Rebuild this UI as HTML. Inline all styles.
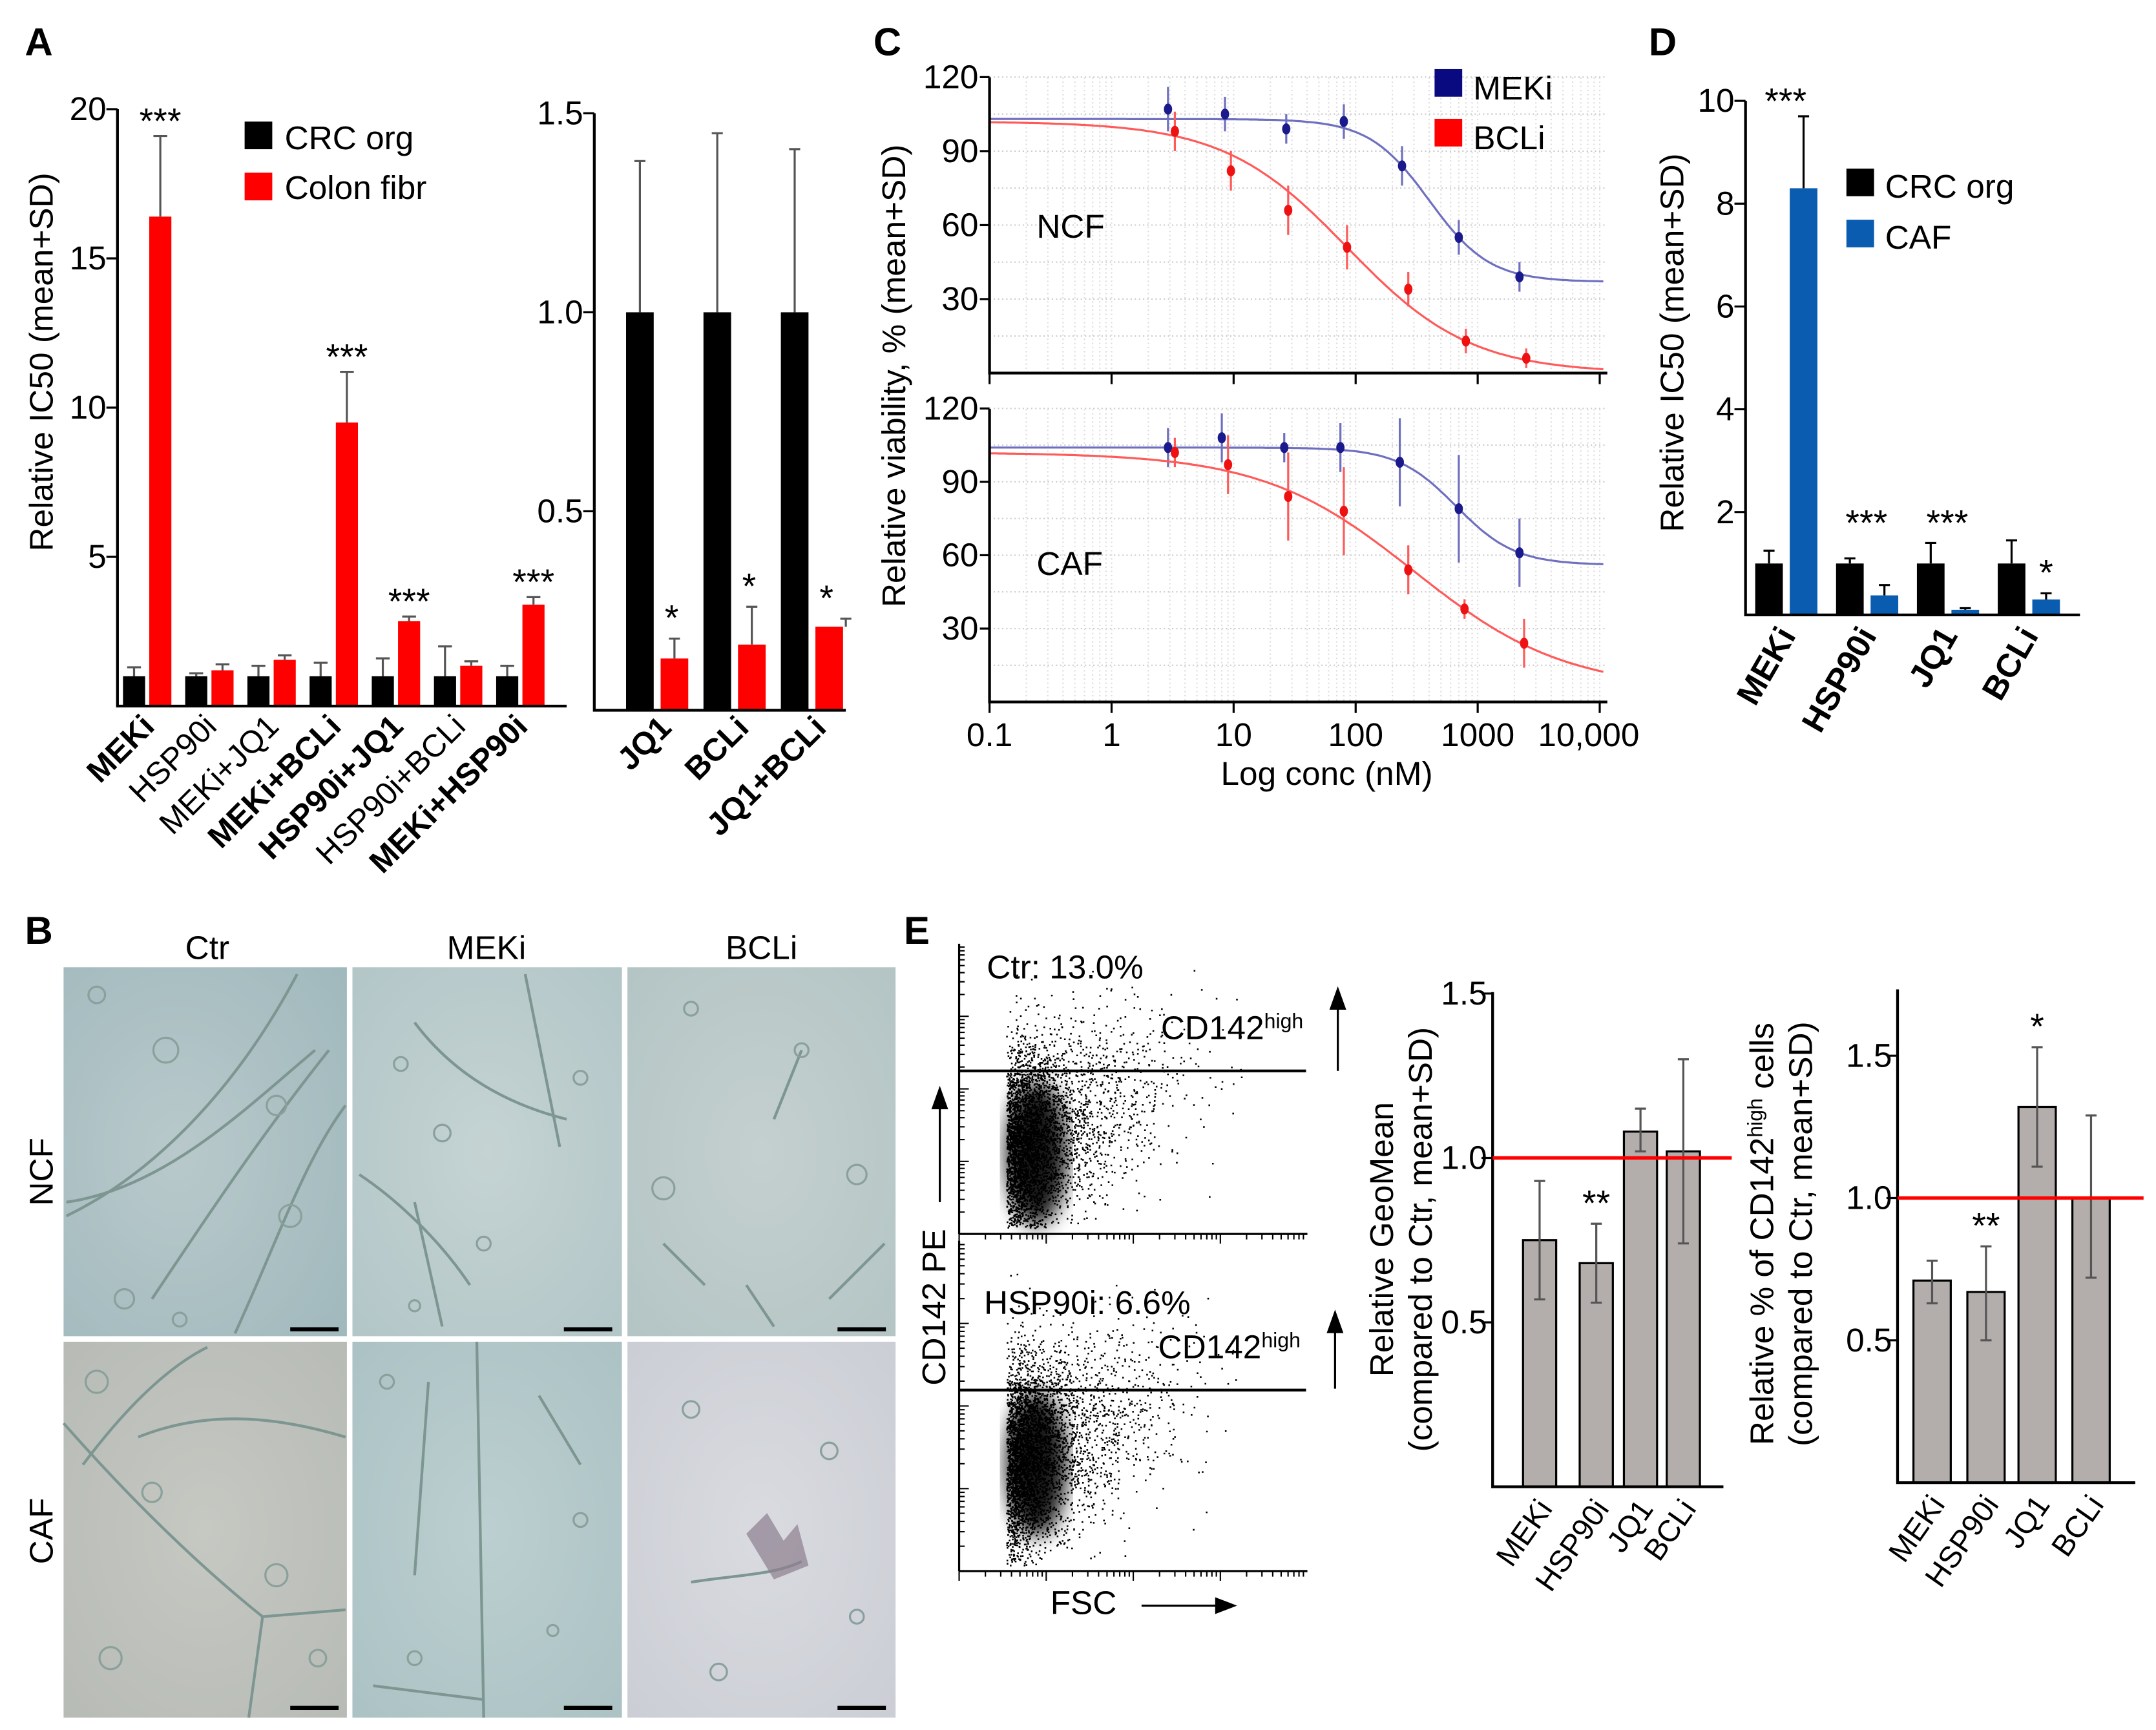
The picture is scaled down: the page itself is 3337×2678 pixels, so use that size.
<!DOCTYPE html>
<html><head><meta charset="utf-8">
<style>
html,body{margin:0;padding:0;background:#fff;}
svg{display:block;}
text{font-family:"Liberation Sans",Arial,sans-serif;fill:#000;}
.t{font-size:24px;}
.b{font-weight:bold;}
.lt{font-size:28px;font-weight:bold;}
</style></head>
<body>
<svg id="fig" xmlns="http://www.w3.org/2000/svg" width="3337" height="2678" viewBox="0 0 1560 1252" preserveAspectRatio="none">
<defs>
<radialGradient id="gNCF" cx="0.4" cy="0.5" r="0.8"><stop offset="0" stop-color="#b9c9cb"/><stop offset="1" stop-color="#9fb8bc"/></radialGradient>
<radialGradient id="gM" cx="0.5" cy="0.5" r="0.8"><stop offset="0" stop-color="#c5d3d3"/><stop offset="1" stop-color="#b0c4c6"/></radialGradient>
<radialGradient id="gB" cx="0.5" cy="0.5" r="0.8"><stop offset="0" stop-color="#c4d0cf"/><stop offset="1" stop-color="#b2c3c3"/></radialGradient>
<radialGradient id="gC1" cx="0.5" cy="0.5" r="0.8"><stop offset="0" stop-color="#c6c8c2"/><stop offset="1" stop-color="#b5b9b4"/></radialGradient>
<radialGradient id="gC2" cx="0.5" cy="0.5" r="0.8"><stop offset="0" stop-color="#bccfd0"/><stop offset="1" stop-color="#a9c0c2"/></radialGradient>
<radialGradient id="gC3" cx="0.5" cy="0.5" r="0.8"><stop offset="0" stop-color="#d9dbe0"/><stop offset="1" stop-color="#c9ccd3"/></radialGradient>
<filter id="blur"><feGaussianBlur stdDeviation="7"/></filter>
</defs>

<text class="lt" x="18" y="40">A</text>
<text class="lt" x="18" y="683">B</text>
<text class="lt" x="632" y="40">C</text>
<text class="lt" x="1193" y="40">D</text>
<text class="lt" x="654" y="683">E</text>

<g id="A1"></g>
<g id="A2"></g>
<text class="t" transform="translate(38,262) rotate(-90)" text-anchor="middle">Relative IC50 (mean+SD)</text>
<rect x="177" y="88" width="20" height="20" fill="#000"/>
<text class="t" x="206" y="108">CRC org</text>
<rect x="177" y="125" width="20" height="20" fill="#f00"/>
<text class="t" x="206" y="144">Colon fibr</text>

<g id="C"></g>
<text class="t" transform="translate(655,272) rotate(-90)" text-anchor="middle">Relative viability, % (mean+SD)</text>
<text class="t" x="960" y="568" text-anchor="middle">Log conc (nM)</text>
<text class="t" x="750" y="172">NCF</text>
<text class="t" x="750" y="416">CAF</text>
<rect x="1038" y="50" width="20" height="20" fill="#0a0a80"/>
<text class="t" x="1066" y="72">MEKi</text>
<rect x="1038" y="86" width="20" height="20" fill="#f00"/>
<text class="t" x="1066" y="108">BCLi</text>

<g id="D"></g>
<text class="t" transform="translate(1218,248) rotate(-90)" text-anchor="middle">Relative IC50 (mean+SD)</text>
<rect x="1336" y="122" width="20" height="20" fill="#000"/>
<text class="t" x="1364" y="143">CRC org</text>
<rect x="1336" y="159" width="20" height="20" fill="#0a5cb0"/>
<text class="t" x="1364" y="180">CAF</text>

<g id="B">
<text class="t" x="150" y="694" text-anchor="middle">Ctr</text>
<text class="t" x="352" y="694" text-anchor="middle">MEKi</text>
<text class="t" x="551" y="694" text-anchor="middle">BCLi</text>
<text class="t" transform="translate(38,848) rotate(-90)" text-anchor="middle">NCF</text>
<text class="t" transform="translate(38,1108) rotate(-90)" text-anchor="middle">CAF</text>
<rect x="46" y="700" width="205" height="267" fill="url(#gNCF)"/>
<rect x="255" y="700" width="195" height="267" fill="url(#gM)"/>
<rect x="454" y="700" width="194" height="267" fill="url(#gB)"/>
<rect x="46" y="971" width="205" height="272" fill="url(#gC1)"/>
<rect x="255" y="971" width="195" height="272" fill="url(#gC2)"/>
<rect x="454" y="971" width="194" height="272" fill="url(#gC3)"/>
<g fill="none" stroke="#7d9692" stroke-width="2">
<path d="M48,880 C110,850 170,790 215,705"/><path d="M48,870 C120,860 180,800 228,760"/><path d="M110,940 C150,880 190,820 238,760"/><path d="M170,965 C200,900 220,840 250,800"/>
<path d="M300,740 C330,780 370,800 410,810"/><path d="M300,870 L320,960"/><path d="M380,705 L405,830"/><path d="M260,850 C290,870 320,900 340,930"/>
<path d="M560,810 L580,760"/><path d="M480,900 L510,930"/><path d="M540,930 L560,960"/><path d="M600,940 L640,900"/>
<path d="M60,1060 C90,1020 120,990 150,975"/><path d="M100,1040 C150,1020 200,1025 250,1040"/><path d="M46,1030 C90,1080 140,1130 190,1170 L250,1165"/><path d="M190,1170 L180,1243"/>
<path d="M310,1000 L300,1140"/><path d="M345,971 L350,1243"/><path d="M390,1010 L420,1060"/><path d="M270,1220 L350,1230"/>
<path d="M500,1145 C530,1140 560,1140 580,1130"/>
</g>
<g fill="none" stroke="#8aa09c" stroke-width="1.5">
<circle cx="70" cy="720" r="6"/><circle cx="120" cy="760" r="9"/><circle cx="200" cy="800" r="7"/><circle cx="90" cy="940" r="7"/><circle cx="130" cy="955" r="5"/><circle cx="210" cy="880" r="8"/>
<circle cx="290" cy="770" r="5"/><circle cx="320" cy="820" r="6"/><circle cx="420" cy="780" r="5"/><circle cx="350" cy="900" r="5"/><circle cx="300" cy="945" r="4"/>
<circle cx="500" cy="730" r="5"/><circle cx="480" cy="860" r="8"/><circle cx="580" cy="760" r="5"/><circle cx="620" cy="850" r="7"/>
<circle cx="70" cy="1000" r="8"/><circle cx="110" cy="1080" r="7"/><circle cx="200" cy="1140" r="8"/><circle cx="80" cy="1200" r="8"/><circle cx="230" cy="1200" r="6"/>
<circle cx="280" cy="1000" r="5"/><circle cx="420" cy="1100" r="5"/><circle cx="300" cy="1200" r="5"/><circle cx="400" cy="1180" r="4"/>
<circle cx="500" cy="1020" r="6"/><circle cx="600" cy="1050" r="6"/><circle cx="520" cy="1210" r="6"/><circle cx="620" cy="1170" r="5"/>
</g>
<path d="M540,1110 l15,-15 l12,20 l10,-12 l8,30 l-25,10 z" fill="#8d7f8f" opacity="0.7"/>
<g stroke="#000" stroke-width="3">
<line x1="210" y1="962" x2="245" y2="962"/><line x1="408" y1="962" x2="443" y2="962"/><line x1="606" y1="962" x2="641" y2="962"/>
<line x1="210" y1="1236" x2="245" y2="1236"/><line x1="408" y1="1236" x2="443" y2="1236"/><line x1="606" y1="1236" x2="641" y2="1236"/>
</g>
</g>

<g id="Eflow">
<text class="t" x="714" y="708">Ctr: 13.0%</text>
<text class="t" x="840" y="752">CD142<tspan font-size="15" dy="-8">high</tspan></text>
<text class="t" x="712" y="951">HSP90i: 6.6%</text>
<text class="t" x="838" y="983">CD142<tspan font-size="15" dy="-8">high</tspan></text>
<text class="t" transform="translate(684,946) rotate(-90)" text-anchor="middle">CD142 PE</text>
<text class="t" x="760" y="1168">FSC</text>
<g stroke="#000" stroke-width="1.5" fill="#000">
<line x1="968" y1="775" x2="968" y2="728"/><polygon points="963,730 973,730 968,716"/>
<line x1="966" y1="1005" x2="966" y2="962"/><polygon points="961,964 971,964 966,950"/>
<line x1="680" y1="870" x2="680" y2="800"/><polygon points="675,802 685,802 680,788"/>
<line x1="826" y1="1162" x2="882" y2="1162"/><polygon points="880,1157 880,1167 893,1162"/>
</g>
<g id="scat"></g>
<g id="flowAx" stroke="#000" stroke-width="1.5">
<line x1="694" y1="683" x2="694" y2="893"/><line x1="694" y1="893" x2="946" y2="893"/>
<line x1="694" y1="898" x2="694" y2="1137"/><line x1="694" y1="1137" x2="946" y2="1137"/>
<line x1="694" y1="775" x2="945" y2="775" stroke-width="2"/><line x1="694" y1="1006" x2="945" y2="1006" stroke-width="2"/>
</g>
</g>
<g id="E1"></g>
<g id="E2"></g>
<text class="t" transform="translate(1008,897) rotate(-90)" text-anchor="middle">Relative GeoMean</text>
<text class="t" transform="translate(1036,897) rotate(-90)" text-anchor="middle">(compared to Ctr, mean+SD)</text>
<text class="t" transform="translate(1283,893) rotate(-90)" text-anchor="middle">Relative % of CD142<tspan font-size="15" dy="-8">high</tspan><tspan dy="8"> cells</tspan></text>
<text class="t" transform="translate(1311,893) rotate(-90)" text-anchor="middle">(compared to Ctr, mean+SD)</text>
</svg>

<script>
const NS='http://www.w3.org/2000/svg';
const aCats=['MEKi','HSP90i','MEKi+JQ1','MEKi+BCLi','HSP90i+JQ1','HSP90i+BCLi','MEKi+HSP90i'];
const aBold=[1,0,0,1,1,0,1];
const aCrc=[1,1,1,1,1,1,1];
const aCrcErr=[1.3,1.1,1.35,1.45,1.6,2.0,1.35];
const aFib=[16.4,1.2,1.55,9.5,2.85,1.35,3.4];
const aFibErr=[19.1,1.4,1.7,11.2,3.0,1.5,3.65];
const aStars=['***','','','***','***','','***'];
const aTicks=[5,10,15,20];
const a2Cats=['JQ1','BCLi','JQ1+BCLi'];
const a2Crc=[1,1,1];
const a2CrcErr=[1.38,1.45,1.41];
const a2Fib=[0.13,0.165,0.21];
const a2FibErr=[0.18,0.26,0.23];
const a2Stars=['*','*','*'];
const a2Ticks=[0.5,1.0,1.5];
const cTicks=[0.1,1,10,100,1000,10000];
const cTickLabels=['0.1','1','10','100','1000','10,000'];
const cYTicks=[30,60,90,120];
const ncfMekConc=[2.9,8.5,27,80,240,700,2200];
const ncfMekVal=[107,105,99,102,84,55,39];
const ncfMekErr=[9,7,6,7,8,7,6];
const ncfBclConc=[3.3,9.5,28,85,270,800,2500];
const ncfBclVal=[98,82,66,51,34,13,6];
const ncfBclErr=[8,8,10,9,7,5,4];
const cafMekConc=[2.9,8,26,75,230,700,2200];
const cafMekVal=[104,108,104,104,98,79,61];
const cafMekErr=[8,10,6,10,18,22,14];
const cafBclConc=[3.3,9,28,80,270,780,2400];
const cafBclVal=[102,97,84,78,54,38,24];
const cafBclErr=[6,12,18,18,10,4,10];
const ncfMekFit=[103,37,401,1.76];
const ncfBclFit=[102,0,85,0.86];
const cafMekFit=[104,56,667,1.8];
const cafBclFit=[102,5,300,0.7];
const dCats=['MEKi','HSP90i','JQ1','BCLi'];
const dCrc=[1,1,1,1];
const dCrcErr=[1.25,1.1,1.4,1.45];
const dCaf=[8.3,0.38,0.1,0.3];
const dCafErr=[9.7,0.58,0.13,0.42];
const dStars=['***','***','***','*'];
const dTicks=[2,4,6,8,10];
const eCats=['MEKi','HSP90i','JQ1','BCLi'];
const e1Val=[0.75,0.68,1.08,1.02];
const e1Lo=[0.57,0.56,1.02,0.74];
const e1Hi=[0.93,0.80,1.15,1.30];
const e1Stars=['','**','',''];
const e1Ticks=[0.5,1.0,1.5];
const e2Val=[0.71,0.67,1.32,1.0];
const e2Lo=[0.63,0.50,1.11,0.72];
const e2Hi=[0.78,0.83,1.53,1.29];
const e2Stars=['','**','*',''];
const e2Ticks=[0.5,1.0,1.5];

function mk(tag,attrs,parent){const e=document.createElementNS(NS,tag);for(const k in attrs)e.setAttribute(k,attrs[k]);parent.appendChild(e);return e;}
function txt(s,attrs,parent){const e=mk('text',attrs,parent);e.textContent=s;return e;}
function errBar(g,x,y1,y2,col,w){
  const l=mk('path',{d:`M${x},${y1}V${y2}M${x-w},${y2}H${x+w}`,stroke:col,'stroke-width':1.5,fill:'none'},g);
  
  
}

(function(){
  const g=document.getElementById('A1');
  const x0=85,xEnd=410,yBase=511,k=21.6;
  const y=v=>yBase-v*k;
  aCats.forEach((c,i)=>{
    const xb=89+i*45, xr=108+i*45, w=16;
    errBar(g,xb+w/2,y(aCrc[i]),y(aCrcErr[i]),'#555',5);
    errBar(g,xr+w/2,y(aFib[i]),y(aFibErr[i]),'#555',5);
    const r1=mk('rect',{x:xb,y:y(aCrc[i]),width:w,height:aCrc[i]*k,fill:'#000'},g);
    
    
    const r2=mk('rect',{x:xr,y:y(aFib[i]),width:w,height:aFib[i]*k,fill:'#f00'},g);
    
    
    if(aStars[i]){const s=txt(aStars[i],{x:xr+w/2,y:y(aFibErr[i])-2,'text-anchor':'middle','font-size':26},g);
      
      }
    const t=txt(c,{transform:`translate(${xb+24},${527}) rotate(-45)`,'text-anchor':'end','font-size':23,'font-weight':aBold[i]?'bold':'normal'},g);
    
    
  });
  const ax=mk('path',{d:`M${x0},${y(20)}V${yBase}H${xEnd}`,stroke:'#000','stroke-width':2,fill:'none'},g);
  
  
  aTicks.forEach(v=>{
    const l=mk('line',{x1:x0-8,x2:x0,y1:y(v),y2:y(v),stroke:'#000','stroke-width':1.5},g);
    
    
    const t=txt(String(v),{x:x0-8,y:y(v)+8,'text-anchor':'end','font-size':24},g);
    
    
  });
})();

(function(){
  const g=document.getElementById('A2');
  const x0=430,xEnd=612,yBase=514,k=288;
  const y=v=>yBase-v*k;
  a2Cats.forEach((c,i)=>{
    const xb=453+i*56, xr=478+i*56, w=20;
    errBar(g,xb+w/2,y(a2Crc[i]),y(a2CrcErr[i]),'#555',4);
    errBar(g,xr+w/2+(i==2?12:0),y(a2Fib[i]),y(a2FibErr[i]),'#555',4);
    const r1=mk('rect',{x:xb,y:y(a2Crc[i]),width:w,height:a2Crc[i]*k,fill:'#000'},g);
    
    
    const r2=mk('rect',{x:xr,y:y(a2Fib[i]),width:w,height:a2Fib[i]*k,fill:'#f00'},g);
    
    
    const s=txt(a2Stars[i],{x:xr+w/2-2,y:y(a2FibErr[i])-6,'text-anchor':'middle','font-size':26},g);
    
    
    const t=txt(c,{transform:`translate(${xb+34},${528}) rotate(-45)`,'text-anchor':'end','font-size':23,'font-weight':'bold'},g);
    
    
  });
  const ax=mk('path',{d:`M${x0},${y(1.5)}V${yBase}H${xEnd}`,stroke:'#000','stroke-width':2,fill:'none'},g);
  
  
  a2Ticks.forEach(v=>{
    const l=mk('line',{x1:x0-8,x2:x0,y1:y(v),y2:y(v),stroke:'#000','stroke-width':1.5},g);
    
    
    const t=txt(v.toFixed(1),{x:x0-8,y:y(v)+8,'text-anchor':'end','font-size':24},g);
    
    
  });
})();

(function(){
  const g=document.getElementById('C');
  const xL=716,xR=1163,dec=88.3;
  const X=c=>xL+(Math.log10(c)+1)*dec;
  const panels=[{base:270,top:56,k:1.785,sets:[[ncfMekConc,ncfMekVal,ncfMekErr,ncfMekFit,'#1a1a8c','#6f6fc0'],[ncfBclConc,ncfBclVal,ncfBclErr,ncfBclFit,'#ee1111','#ff5a5a']]},
                {base:508,top:296,k:1.77,sets:[[cafMekConc,cafMekVal,cafMekErr,cafMekFit,'#1a1a8c','#6f6fc0'],[cafBclConc,cafBclVal,cafBclErr,cafBclFit,'#ee1111','#ff5a5a']]}];
  panels.forEach((p,pi)=>{
    const Y=v=>p.base-v*p.k;
    for(let v=15;v<=120;v+=15){const l=mk('line',{x1:xL,x2:xR,y1:Y(v),y2:Y(v),stroke:'#ccc','stroke-width':1,'stroke-dasharray':'1,2'},g);
      
      }
    for(let d=-1;d<=4;d++){for(let m=1;m<10;m++){const c=m*Math.pow(10,d);if(c>11000)break;const l=mk('line',{x1:X(c),x2:X(c),y1:p.top,y2:p.base,stroke:'#ddd','stroke-width':1,'stroke-dasharray':'1,2'},g);
      
      }}
    p.sets.forEach((s,si)=>{
      const [cs,vs,es,f,dot,line]=s;
      let d='';for(let i=0;i<=200;i++){const lc=-1+i*5.03/200;const c=Math.pow(10,lc);const v=f[1]+(f[0]-f[1])/(1+Math.pow(c/f[2],f[3]));d+=(i?'L':'M')+X(c).toFixed(1)+','+Y(v).toFixed(1);}
      const cv=mk('path',{d:d,stroke:line,'stroke-width':1.5,fill:'none'},g);
      
      
      cs.forEach((c,i)=>{
        const e=mk('line',{x1:X(c),x2:X(c),y1:Y(vs[i]-es[i]),y2:Y(vs[i]+es[i]),stroke:line,'stroke-width':1.5},g);
        
        
        const pt=mk('ellipse',{cx:X(c),cy:Y(vs[i]),rx:3,ry:4,fill:dot},g);
        
        
      });
    });
    const ax=mk('path',{d:`M${xL},${p.top}V${p.base}H${xR}`,stroke:'#000','stroke-width':2,fill:'none'},g);
    
    
    cYTicks.forEach(v=>{
      const l=mk('line',{x1:xL-7,x2:xL,y1:Y(v),y2:Y(v),stroke:'#000','stroke-width':1.5},g);
      
      
      const t=txt(String(v),{x:xL-8,y:Y(v)+8,'text-anchor':'end','font-size':24},g);
      
      
    });
    cTicks.forEach((c,i)=>{
      const l=mk('line',{x1:X(c),x2:X(c),y1:p.base,y2:p.base+8,stroke:'#000','stroke-width':1.5},g);
      
      
      if(pi==1){const t=txt(cTickLabels[i],{x:X(c)-(i==5?8:0),y:p.base+32,'text-anchor':'middle','font-size':24},g);
        
        }
    });
  });
})();

(function(){
  const g=document.getElementById('D');
  const x0=1263,xEnd=1505,yBase=445,k=37.2;
  const y=v=>yBase-v*k;
  dCats.forEach((c,i)=>{
    const xb=1270+i*58.5, xr=1295+i*58.5, w=20;
    errBar(g,xb+w/2,y(dCrc[i]),y(dCrcErr[i]),'#000',4);
    errBar(g,xr+w/2,y(dCaf[i]),y(dCafErr[i]),'#000',4);
    const r1=mk('rect',{x:xb,y:y(dCrc[i]),width:w,height:dCrc[i]*k,fill:'#000'},g);
    
    
    const r2=mk('rect',{x:xr,y:y(dCaf[i]),width:w,height:dCaf[i]*k,fill:'#0a5cb0'},g);
    
    
    const sy=dStars[i]=='*'?y(dCafErr[i])-6:Math.min(y(dCafErr[i]),y(dCrcErr[i]))-4;
    const s=txt(dStars[i],{x:(i==3?xr+w/2:xb+w+2),y:i==0?y(dCafErr[i])-2:(i==3?sy:y(1.55)),'text-anchor':'middle','font-size':26},g);
    
    
    const t=txt(c,{transform:`translate(${xb+30},${460}) rotate(-60)`,'text-anchor':'end','font-size':24,'font-weight':'bold'},g);
    
    
  });
  const ax=mk('path',{d:`M${x0},${y(10)}V${yBase}H${xEnd}`,stroke:'#000','stroke-width':2,fill:'none'},g);
  
  
  dTicks.forEach(v=>{
    const l=mk('line',{x1:x0-8,x2:x0,y1:y(v),y2:y(v),stroke:'#000','stroke-width':1.5},g);
    
    
    const t=txt(String(v),{x:x0-8,y:y(v)+8,'text-anchor':'end','font-size':24},g);
    
    
  });
})();

function eChart(id,x0,xEnd,yTop,yBase,k,xs,w,vals,lo,hi,stars,ticks){
  const g=document.getElementById(id);
  const y=v=>yBase-v*k;
  eCats.forEach((c,i)=>{
    const r=mk('rect',{x:xs[i]-w/2,y:y(vals[i]),width:w,height:vals[i]*k,fill:'#b3adac',stroke:'#000','stroke-width':1.5},g);
    
    
    const e=mk('path',{d:`M${xs[i]-4},${y(lo[i])}H${xs[i]+4}M${xs[i]},${y(lo[i])}V${y(hi[i])}M${xs[i]-4},${y(hi[i])}H${xs[i]+4}`,stroke:'#555','stroke-width':1.5,fill:'none'},g);
    
    
    if(stars[i]){const s=txt(stars[i],{x:xs[i],y:y(hi[i])-6,'text-anchor':'middle','font-size':26},g);
      
      }
    const t=txt(c,{transform:`translate(${xs[i]+10},${yBase+16}) rotate(-55)`,'text-anchor':'end','font-size':22},g);
    
    
  });
  const ax=mk('path',{d:`M${x0},${yTop}V${yBase}H${xEnd}`,stroke:'#000','stroke-width':2,fill:'none'},g);
  
  
  const rl=mk('line',{x1:x0,x2:xEnd+6,y1:y(1),y2:y(1),stroke:'#f00','stroke-width':2.5},g);
  
  
  ticks.forEach(v=>{
    const l=mk('line',{x1:x0-8,x2:x0,y1:y(v),y2:y(v),stroke:'#000','stroke-width':1.5},g);
    
    
    const t=txt(v.toFixed(1),{x:x0-4,y:y(v)+8,'text-anchor':'end','font-size':24},g);
    
    
  });
}
eChart('E1',1080,1247,718,1076,238,[1114,1155,1187,1218],24,e1Val,e1Lo,e1Hi,e1Stars,e1Ticks);
eChart('E2',1373,1545,716,1073,206,[1398,1437,1474,1513],27,e2Val,e2Lo,e2Hi,e2Stars,e2Ticks);

// flow axis ticks
(function(){
  const g=document.getElementById('flowAx');
  let d='';
  [[683,893],[898,1137]].forEach(r=>{
    for(let dec=0;dec<4;dec++){const y0=r[1]-(r[1]-r[0])*dec/4, h=(r[1]-r[0])/4;
      for(let m=1;m<10;m++){const yy=y0-h*Math.log10(m);d+=`M694,${yy.toFixed(1)}h${m==1?7:4}`;}}
  });
  for(let dec=0;dec<4;dec++){const x0=694+dec*63;for(let m=1;m<10;m++){const xx=x0+63*Math.log10(m);d+=`M${xx.toFixed(1)},1137v${m==1?7:4}M${xx.toFixed(1)},893v${m==1?7:4}`;}}
  const p=mk('path',{d:d,stroke:'#000','stroke-width':1,fill:'none'},g);
  
  
})();

(function(){
  const g=document.getElementById('scat');
  const clouds=[[752,835,775,893,700],[752,1060,1006,1137,920]];
  let seed=7;const rnd=()=>{seed=(seed*16807)%2147483647;return seed/2147483647;};
  const gauss=()=>{const u=rnd()+1e-9,v=rnd();return Math.sqrt(-2*Math.log(u))*Math.cos(6.283*v);};
  clouds.forEach((cl,ci)=>{
    const bl=mk('ellipse',{cx:cl[0]-2,cy:cl[1],rx:22,ry:52,fill:'#000',opacity:0.9,filter:'url(#blur)'},g);
    
    
    let d='';
    for(let i=0;i<4500;i++){
      const dx=Math.abs(gauss())*(rnd()<0.6?18:55);
      let x=728+dx+gauss()*4;
      let yy=cl[1]+gauss()*35-dx*0.45;
      if(x<728||x>945||yy<cl[4]||yy>cl[3]-4)continue;
      d+=`M${x.toFixed(1)},${yy.toFixed(1)}h1.2`;
    }
    const p=mk('path',{d:d,stroke:'#000','stroke-width':1.2,fill:'none'},g);
    
    
  });
})();
</script>
</body></html>
